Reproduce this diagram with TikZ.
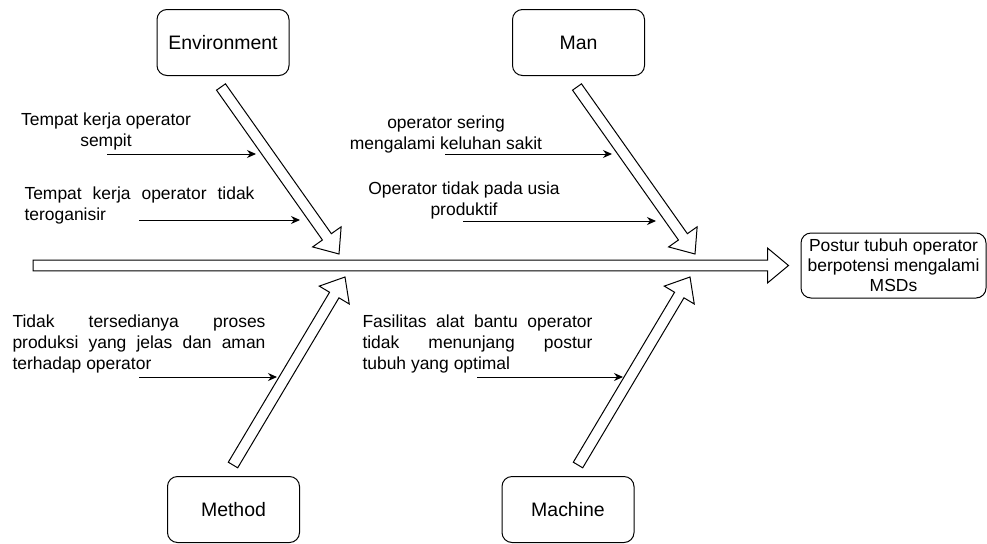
\documentclass[tikz,border=0pt]{standalone}
\usepackage{fontspec}
\setmainfont{Liberation Sans}
\usetikzlibrary{calc,arrows.meta}

\tikzset{every picture/.style={line width=0.75pt}}
\tikzset{
  catbox/.style={draw, rounded corners=7.5pt, minimum width=99pt, minimum height=49.5pt, inner sep=0pt, font=\fontsize{14.6}{17.5}\selectfont},
  effectbox/.style={draw, rounded corners=7.5pt, minimum width=138.75pt, minimum height=48.75pt, inner sep=0pt, align=center, font=\fontsize{13.1}{15}\selectfont},
  bone/.style={draw, fill=white, line join=miter},
  cause/.style={-{Stealth[length=6.75pt,width=6pt]}},
  causetext/.style={inner sep=0pt, font=\fontsize{13.1}{15.75}\selectfont},
}
% hollow fat arrow from #1 (tail) to #2 (tip)
\newcommand{\bonearrow}[2]{%
  \coordinate (h) at ($(#2)!15.75pt!(#1)$);
  \draw [bone] ($(#1)!4.1pt!90:(#2)$) -- ($(h)!4.1pt!90:(#2)$) -- ($(h)!13.1pt!90:(#2)$) -- (#2) -- ($(h)!13.1pt!-90:(#2)$) -- ($(h)!4.1pt!-90:(#2)$) -- ($(#1)!4.1pt!-90:(#2)$) -- cycle ;}

\begin{document}
\begin{tikzpicture}[x=0.75pt,y=0.75pt,yscale=-1,xscale=1]
\useasboundingbox (0,0) rectangle (987,543);

%Shape: Rounded Rect [id:env] 
\node [catbox] (env) at (223,42.5) {Environment};
%Shape: Rounded Rect [id:man] 
\node [catbox] (man) at (578.5,42.5) {Man};
%Shape: Rounded Rect [id:method] 
\node [catbox] (method) at (233.5,509.5) {Method};
%Shape: Rounded Rect [id:machine] 
\node [catbox] (machine) at (568,509.5) {Machine};
%Shape: Rounded Rect [id:effect] 
\node [effectbox] (effect) at (893.5,265.5) {Postur tubuh operator\\berpotensi mengalami\\MSDs};

%Ends of the bones
\coordinate (spinetail) at (33,265.5);
\coordinate (spinetip) at ($(effect.west)+(-12,0)$);
\coordinate (envtail) at ($(env.south)+(-2,11)$);
\coordinate (envtip) at (339,254);
\coordinate (mantail) at ($(man.south)+(-1.5,11)$);
\coordinate (mantip) at (695,254);
\coordinate (methodtail) at ($(method.north)+(-0.5,-11)$);
\coordinate (methodtip) at (345,277);
\coordinate (machinetail) at ($(machine.north)+(10,-11)$);
\coordinate (machinetip) at (690,277);

%Flex Arrows
\bonearrow{spinetail}{spinetip}
\bonearrow{envtail}{envtip}
\bonearrow{mantail}{mantip}
\bonearrow{methodtail}{methodtip}
\bonearrow{machinetail}{machinetip}

% Text Node
\node [causetext, align=center] (t1) at (106,131.5) {Tempat kerja operator\\sempit};
% Text Node
\node [causetext, text width=172.5pt, align=justify, anchor=west] (t2) at (24,205) {Tempat kerja operator tidak\linebreak teroganisir};
% Text Node
\node [causetext, align=center] (t3) at (446,134) {operator sering\\mengalami keluhan sakit};
% Text Node
\node [causetext, align=center] (t4) at (464,200) {Operator tidak pada usia\\produktif};
% Text Node
\node [causetext, text width=189.75pt, align=justify, anchor=west] (t5) at (12,344) {Tidak tersedianya proses\linebreak produksi yang jelas dan aman\linebreak terhadap operator};
% Text Node
\node [causetext, text width=172.5pt, align=justify, anchor=west] (t6) at (362,344) {Fasilitas alat bantu operator\linebreak tidak menunjang postur\linebreak tubuh yang optimal};

%Straight Lines
\coordinate (a1) at (107,154);   \coordinate (b1) at (256,154);
\coordinate (a2) at (139,220);   \coordinate (b2) at (300,220);
\coordinate (a3) at (445,154);   \coordinate (b3) at (612,154);
\coordinate (a4) at (463,221);   \coordinate (b4) at (656,221);
\coordinate (a5) at (139,377);   \coordinate (b5) at (277,377);
\coordinate (a6) at (477,377);   \coordinate (b6) at (623,377);
\draw [cause] (a1) -- (b1) ;
\draw [cause] (a2) -- (b2) ;
\draw [cause] (a3) -- (b3) ;
\draw [cause] (a4) -- (b4) ;
\draw [cause] (a5) -- (b5) ;
\draw [cause] (a6) -- (b6) ;

\end{tikzpicture}
\end{document}
